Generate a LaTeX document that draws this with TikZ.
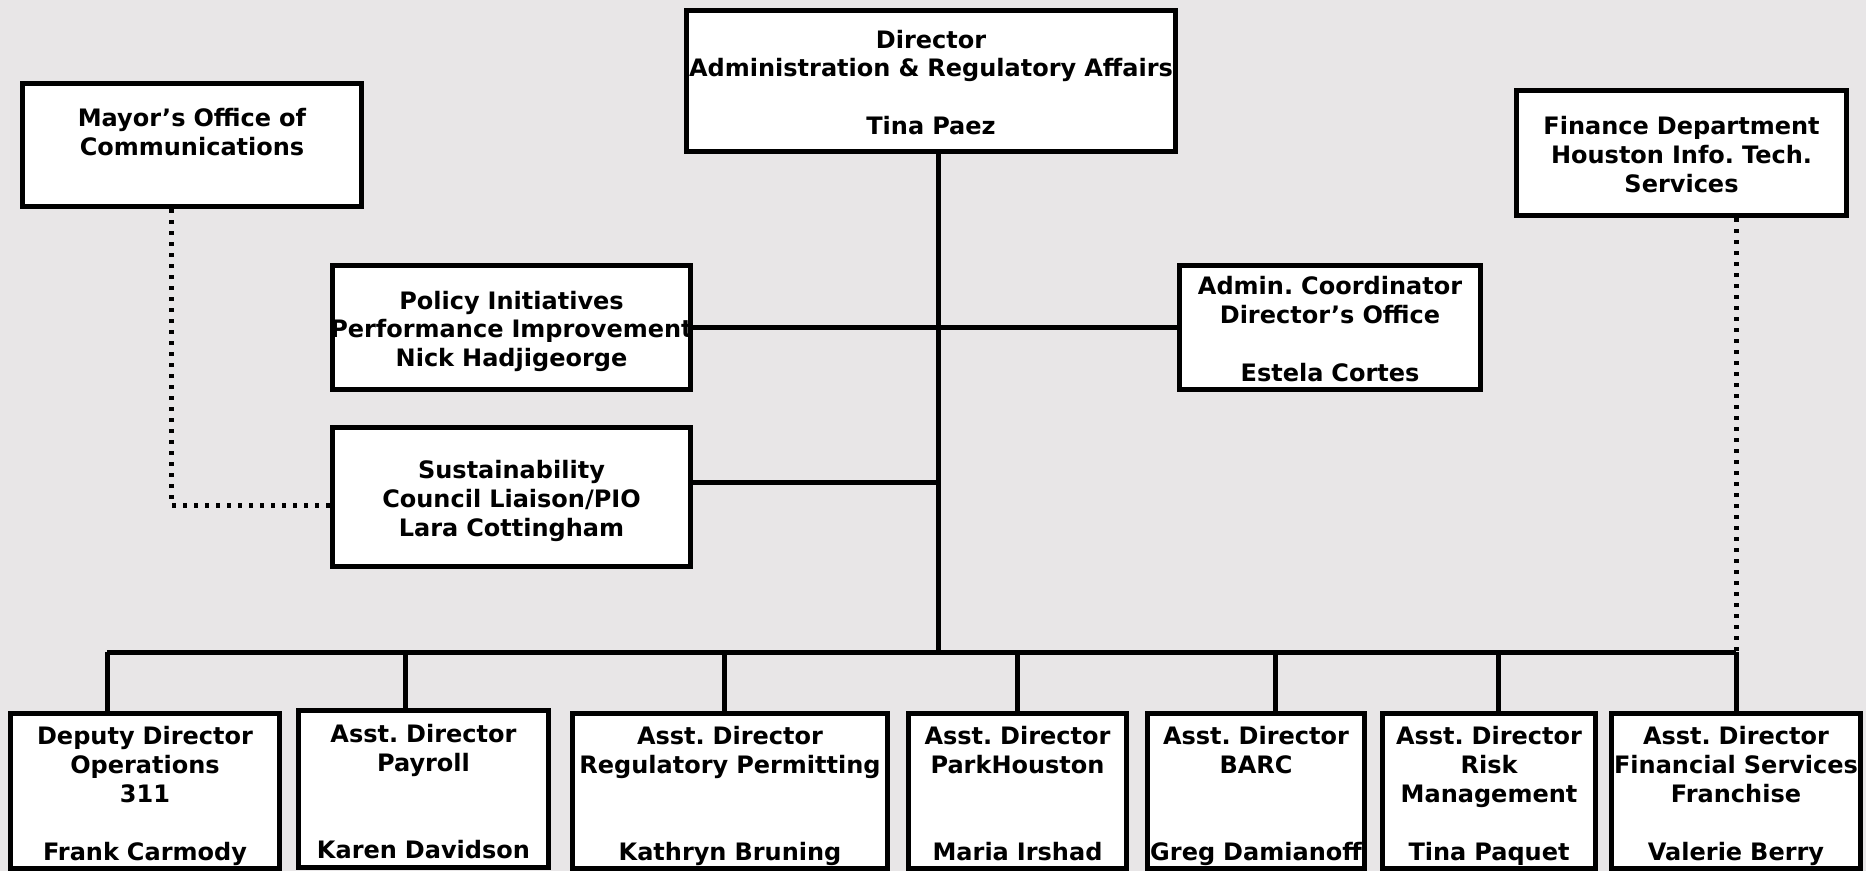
\documentclass[tikz,border=0pt]{standalone}
\usepackage{fontspec}
\setmainfont{DejaVu Sans}
\frenchspacing
\definecolor{bg}{RGB}{232,230,231}
\tikzset{
  box/.style={draw=black, line width=2.8pt, fill=white, inner sep=0pt, align=center,
    font=\bfseries\fontsize{12}{14.4}\selectfont,
    execute at begin node={\rule{0pt}{14pt}},
    execute at end node={\rule[-3.6pt]{0pt}{0pt}}},
  low/.style={execute at begin node={\rule{0pt}{15pt}}},
  conn/.style={line width=2.5pt},
  dotline/.style={line width=2.5pt, dash pattern=on 2pt off 3.5pt}
}
\begin{document}
\begin{tikzpicture}[x=0.5pt,y=-0.5pt]
\useasboundingbox (0,0) rectangle (1866,871);
\fill[bg] (0,0) rectangle (1866,871);

% top level
\node[box, text width=244.5pt, minimum height=70.5pt] (dir) at (931,81)
  {Director\\Administration \& Regulatory Affairs\\~\\Tina Paez};
\node[box, text width=169.5pt, minimum height=61.5pt] (mayor) at (192,145)
  {Mayor’s Office of\\Communications\\~};
\node[box, text width=165pt, minimum height=62.5pt] (fin) at (1681.5,153)
  {Finance Department\\Houston Info. Tech.\\Services};
\node[box, text width=179pt, minimum height=62pt] (pol) at (511.5,327.5)
  {Policy Initiatives\\\makebox[\linewidth]{Performance Improvement}\\Nick Hadjigeorge};
\node[box, text width=150.5pt, minimum height=62pt] (adm) at (1330,327.5)
  {Admin. Coordinator\\Director’s Office\\~\\Estela Cortes};
\node[box, text width=179pt, minimum height=69.5pt] (sus) at (511.5,497)
  {Sustainability\\Council Liaison/PIO\\Lara Cottingham};

% bottom row
\node[box, low, text width=134.5pt, minimum height=77.5pt] (b1) at (145,791)
  {Deputy Director\\Operations\\311\\~\\Frank Carmody};
\node[box, low, text width=125pt, minimum height=78.5pt] (b2) at (423.5,789)
  {Asst. Director\\Payroll\\~\\~\\Karen Davidson};
\node[box, low, text width=157.5pt, minimum height=77.5pt] (b3) at (730,791)
  {Asst. Director\\Regulatory Permitting\\~\\~\\Kathryn Bruning};
\node[box, low, text width=109pt, minimum height=77.5pt] (b4) at (1017.5,791)
  {Asst. Director\\ParkHouston\\~\\~\\Maria Irshad};
\node[box, low, text width=108.5pt, minimum height=77.5pt] (b5) at (1256,791)
  {Asst. Director\\BARC\\~\\~\\Greg Damianoff};
\node[box, low, text width=106.5pt, minimum height=77.5pt] (b6) at (1489,791)
  {Asst. Director\\Risk\\Management\\~\\Tina Paquet};
\node[box, low, text width=124.5pt, minimum height=77.5pt] (b7) at (1736,791)
  {Asst. Director\\Financial Services\\Franchise\\~\\Valerie Berry};

% junction coordinates
\coordinate (bus) at (938,652);
\coordinate (busL) at (107,652);
\coordinate (busR) at (1736,652);
\coordinate (sj) at (938,482);
\coordinate (mc) at (171,505);
\coordinate (d1) at (107,652);
\coordinate (d2) at (405,652);
\coordinate (d3) at (724,652);
\coordinate (d4) at (1017,652);
\coordinate (d5) at (1275,652);
\coordinate (d6) at (1498,652);
\coordinate (d7) at (1736,652);

% solid connectors
\draw[conn] (bus |- dir.south) -- (bus);
\draw[conn] (pol.east) -- (adm.west);
\draw[conn] (sus.east |- sj) -- (sj);
\draw[conn] (busL) -- (busR);
\draw[conn] (d1) -- (d1 |- b1.north);
\draw[conn] (d2) -- (d2 |- b2.north);
\draw[conn] (d3) -- (d3 |- b3.north);
\draw[conn] (d4) -- (d4 |- b4.north);
\draw[conn] (d5) -- (d5 |- b5.north);
\draw[conn] (d6) -- (d6 |- b6.north);
\draw[conn] (d7) -- (d7 |- b7.north);

% dotted connectors
\draw[dotline] (mayor.south -| mc) -- (mc) -- (mc -| sus.west);
\draw[dotline] (fin.south -| busR) -- (busR);
\end{tikzpicture}
\end{document}
